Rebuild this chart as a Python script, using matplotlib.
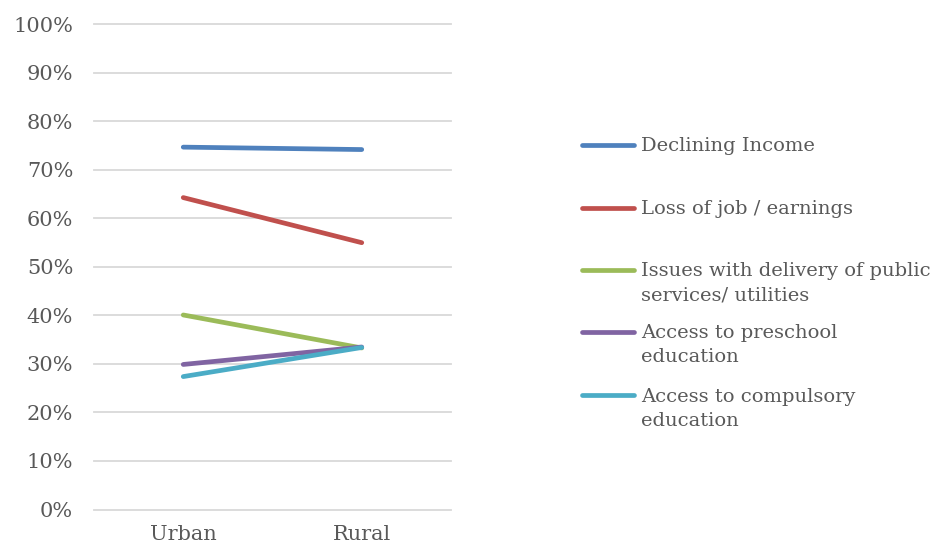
import matplotlib
matplotlib.use('Agg')
import matplotlib.pyplot as plt
from matplotlib.lines import Line2D
from matplotlib.ticker import PercentFormatter

categories = ['Urban', 'Rural']
series_names = [
    'Declining Income',
    'Loss of job / earnings',
    'Issues with delivery of public\nservices/ utilities',
    'Access to preschool\neducation',
    'Access to compulsory\neducation',
]
declining_income = [0.747, 0.742]
loss_of_job = [0.643, 0.550]
public_services = [0.401, 0.333]
preschool = [0.299, 0.335]
compulsory = [0.274, 0.334]
series_values = [declining_income, loss_of_job, public_services, preschool, compulsory]
colors = ['#4f81bd', '#c0504d', '#9bbb59', '#8064a2', '#4bacc6']

text_color = '#595959'
plt.rcParams['font.family'] = ['DejaVu Serif']

W, H = 941, 549
fig = plt.figure(figsize=(W / 100, H / 100), dpi=100)
ax = fig.add_axes([94 / W, (H - 509.5) / H, (451 - 94) / W, (509.5 - 24.4) / H])

x = range(len(categories))
for vals, c in zip(series_values, colors):
    ax.plot(x, vals, color=c, lw=3.4, solid_capstyle='round', zorder=3)

ax.set_xlim(-0.5, 1.5)
ax.set_ylim(0, 1)
ax.set_yticks([i / 10 for i in range(11)])
ax.yaxis.set_major_formatter(PercentFormatter(1.0, decimals=0))
ax.set_xticks(list(x))
ax.set_xticklabels(categories)
ax.grid(axis='y', color='#d9d9d9', lw=1.3)
for gl in ax.get_ygridlines():
    gl.set_clip_on(False)
ax.set_axisbelow(True)
for s in ax.spines.values():
    s.set_visible(False)
ax.tick_params(length=0, labelsize=15, colors=text_color)
ax.tick_params(axis='y', pad=15)
ax.tick_params(axis='x', pad=11)

# legend drawn by hand so the marker sits on the first text line (Excel style)
legend_tops = [144.5, 207.5, 270, 331.5, 395]
for name, c, yp in zip(series_names, colors, legend_tops):
    yf = (H - yp) / H
    fig.add_artist(Line2D([582 / W, 634 / W], [yf, yf], color=c, lw=3.4,
                          solid_capstyle='round', transform=fig.transFigure))
    fig.text(641 / W, (H - yp + 7.5) / H, name, color=text_color, fontsize=14,
             va='top', ha='left', linespacing=1.45)

fig.savefig('out.png', dpi=100)
